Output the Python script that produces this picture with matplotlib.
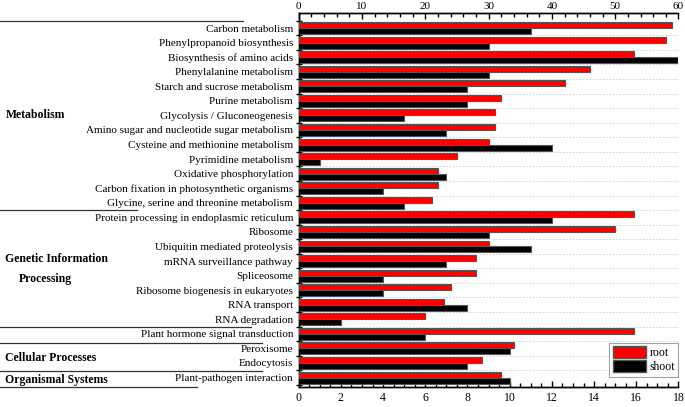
import matplotlib
matplotlib.use("Agg")
import matplotlib.pyplot as plt
from matplotlib.lines import Line2D
from matplotlib.patches import Patch
from matplotlib.ticker import MultipleLocator, FixedLocator
from matplotlib.transforms import blended_transform_factory
import numpy as np

plt.rcParams['font.family'] = ['Liberation Serif', 'DejaVu Serif']

categories = [
    "Carbon metabolism", "Phenylpropanoid biosynthesis", "Biosynthesis of amino acids",
    "Phenylalanine metabolism", "Starch and sucrose metabolism", "Purine metabolism",
    "Glycolysis / Gluconeogenesis", "Amino sugar and nucleotide sugar metabolism",
    "Cysteine and methionine metabolism", "Pyrimidine metabolism", "Oxidative phosphorylation",
    "Carbon fixation in photosynthetic organisms", "Glycine, serine and threonine metabolism",
    "Protein processing in endoplasmic reticulum", "Ribosome", "Ubiquitin mediated proteolysis",
    "mRNA surveillance pathway", "Spliceosome", "Ribosome biogenesis in eukaryotes",
    "RNA transport", "RNA degradation", "Plant hormone signal transduction",
    "Peroxisome", "Endocytosis", "Plant-pathogen interaction",
]
# root values read on the top axis (0-60)
root = [59, 58, 53, 46, 42, 32, 31, 31, 30, 25, 22, 22, 21,
        53, 50, 30, 28, 28, 24, 23, 20, 53, 34, 29, 32]
# shoot values read on the bottom axis (0-18)
shoot = [11, 9, 18, 9, 8, 8, 5, 7, 12, 1, 7, 4, 5,
         12, 9, 11, 7, 4, 4, 8, 2, 6, 10, 8, 10]

groups = ["Metabolism", "Genetic Information", "Processing", "Cellular Processes", "Organismal Systems"]
group_y = [6.0, 15.85, 17.25, 22.65, 24.2]
group_x = [0.008, 0.008, 0.028, 0.008, 0.008]
# separator lines: (y in data, x end in figure fraction)
sep_y = [-0.5, 12.5, 20.5, 21.6, 23.55, 24.68]
sep_x = [0.355, 0.200, 0.367, 0.383, 0.383, 0.288]

fig = plt.figure(figsize=(6.85, 4.07), dpi=100)
ax = fig.add_axes([0.436, 0.048, 0.5545, 0.9207])
ax2 = ax.twiny()

y = np.arange(len(categories))
h = 0.41
edge = '#555555'
ax.barh(y + h / 2, shoot, height=h, color='black', edgecolor=edge, linewidth=0.8, zorder=3)
ax2.barh(y - h / 2, root, height=h, color='#ff0000', edgecolor=edge, linewidth=0.8, zorder=3)

ax.set_xlim(0, 18)
ax2.set_xlim(0, 60)
ax.set_ylim(24.68, -1.05)

# y ticks: labels at centers, tick marks at boundaries
ax.set_yticks(y)
ax.set_yticklabels(categories, fontsize=8)
ax.tick_params(axis='y', which='major', length=0, pad=4)
ax.yaxis.set_minor_locator(FixedLocator(np.arange(-0.5, len(categories), 1.0)))
ax.tick_params(axis='y', which='minor', direction='inout', length=5, width=1)

# dashed gridlines at boundaries
for b in np.arange(0.5, len(categories) - 1, 1.0):
    ax.axhline(b, color='#cccccc', linestyle=(0, (2, 2)), linewidth=0.6, zorder=0)

ax.xaxis.set_major_locator(MultipleLocator(2))
ax.xaxis.set_minor_locator(MultipleLocator(0.5))
ax.tick_params(axis='x', which='major', direction='in', length=4, width=1, labelsize=8.5, pad=3)
ax.tick_params(axis='x', which='minor', direction='in', length=3, width=1)
ax2.xaxis.set_major_locator(MultipleLocator(10))
ax2.xaxis.set_minor_locator(MultipleLocator(2))
ax2.tick_params(axis='x', which='major', direction='in', length=4, width=1, labelsize=8, pad=1)
ax2.tick_params(axis='x', which='minor', direction='in', length=3, width=1)

for a in (ax, ax2):
    a.spines['right'].set_visible(False)
    for s in ('left', 'top', 'bottom'):
        a.spines[s].set_linewidth(1.0)

trans = blended_transform_factory(fig.transFigure, ax.transData)
for yy, xe in zip(sep_y, sep_x):
    fig.add_artist(Line2D([0, xe], [yy, yy], transform=trans, color='#333333', linewidth=0.9))
for g, gx, gy in zip(groups, group_x, group_y):
    fig.text(gx, gy, g, transform=trans, fontsize=8.5, fontweight='bold', va='center', ha='left')

handles = [Patch(facecolor='#ff0000', edgecolor=edge, label='root'),
           Patch(facecolor='black', edgecolor=edge, label='shoot')]
leg = ax2.legend(handles=handles, loc='lower right', bbox_to_anchor=(1.0, 0.028),
                 fontsize=8.5, frameon=True, fancybox=False, edgecolor='#888888',
                 handlelength=2.8, handleheight=1.2, handletextpad=0.3, borderpad=0.3,
                 labelspacing=0.1, borderaxespad=0)
leg.get_frame().set_linewidth(0.8)

fig.savefig('out.png', dpi=100)
